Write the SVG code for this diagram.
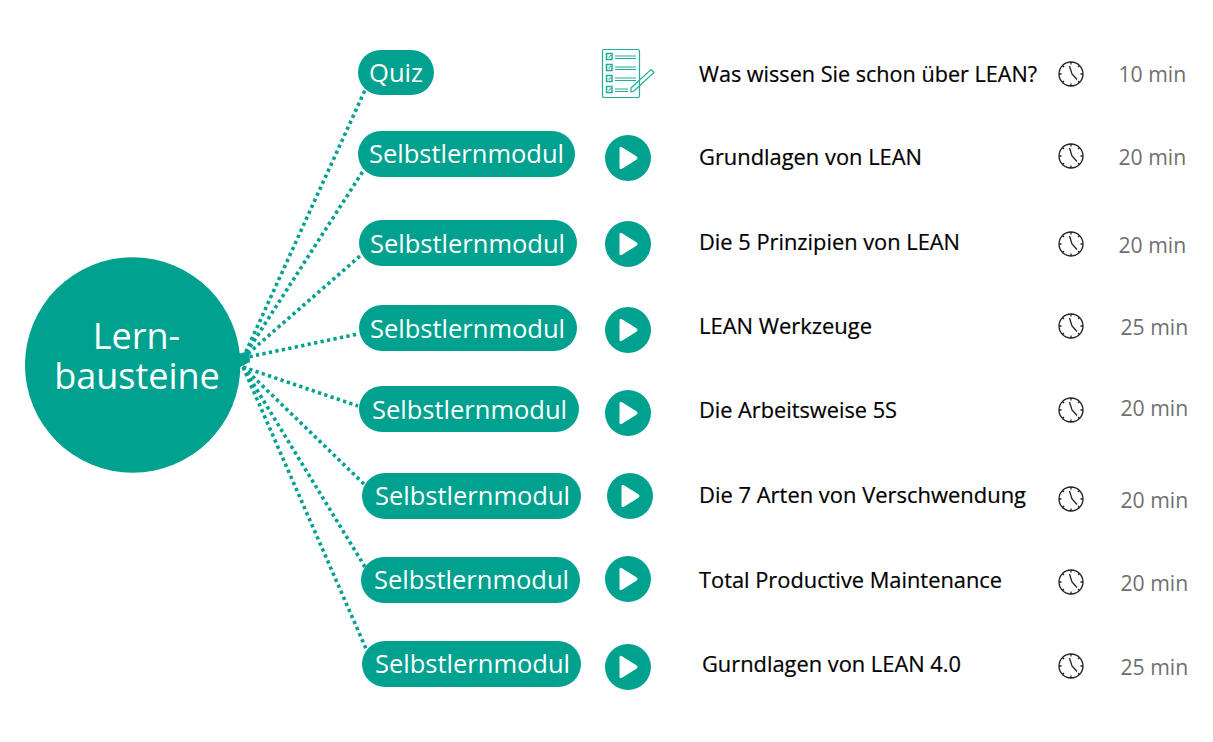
<svg xmlns="http://www.w3.org/2000/svg" width="1213" height="742" viewBox="0 0 1213 742">
<style>
.t{font-family:"Open Sans","Noto Sans","Liberation Sans",sans-serif}
.pill{fill:#00a28f}
.pt{font-size:25.500px;fill:#fff;text-anchor:middle}
.hub{font-size:36px;fill:#fff;text-anchor:middle}
.lbl{font-size:22px;fill:#000;stroke:#000;stroke-width:.2}
.min{font-size:21.200px;fill:#6f6f6f}
.conn{fill:none;stroke:#00a28f;stroke-width:3.600;stroke-dasharray:3.300 3.300}
.ck{fill:none;stroke:#222;stroke-width:1.300}
</style>
<defs>
<g id="play"><circle r="23" fill="#00a28f"/><path d="M-8.500-9.500Q-8.500-12-6-10.700L8-2Q11 0 8 2L-6 10.700Q-8.500 12-8.500 9.500Z" fill="#fff"/></g>
<g id="clock"><circle r="12" class="ck"/><path d="M-1.500-8L1 0 6 5.500" class="ck"/><path d="M0-12V-9.500M0 12V9.500M-12 0H-9.500M12 0H9.500M-8.500-8.500L-7-7M8.500-8.500L7-7M-8.500 8.500L-7 7M8.500 8.500L7 7" class="ck"/></g>
</defs>
<g id="connectors">
<path class="conn" d="M243 358L366 88"/>
<path class="conn" d="M243 358L365 168"/>
<path class="conn" d="M243 358L360 256"/>
<path class="conn" d="M243 358L358 334"/>
<path class="conn" d="M243 367L358 406"/>
<path class="conn" d="M243 367L365 485"/>
<path class="conn" d="M243 367L365 567"/>
<path class="conn" d="M243 367L367 651"/>
</g>
<g id="hub"><circle cx="132.700" cy="365" r="107.700" class="pill"/><path d="M238 354L249 351 250 362 240 367Z" class="pill"/>
<text class="t hub" x="136.500" y="349">Lern-</text>
<text class="t hub" x="137" y="389">bausteine</text></g>
<g id="n0"><rect x="358" y="50" width="76" height="45" rx="22.500" class="pill"/><text class="t pt" x="396" y="81.500">Quiz</text>
<g fill="none" stroke="#1fae9c"><rect x="602.500" y="49.500" width="37" height="48" rx="1.500" stroke-width="1.200"/>
<path d="M615 56H636M615 58.500H636M615 67H636M615 69.500H636M615 78H636M615 80.500H636M615 89H628M615 91.500H628" stroke-width="1"/>
<path d="M606.500 53.500h5.500v6h-5.500zM606.500 64.500h5.500v6h-5.500zM606.500 75.500h5.500v6h-5.500zM606.500 86.500h5.500v6h-5.500z" stroke-width="1.500"/>
<path d="M608 56.500l1 1 2-2.500M608 67.500l1 1 2-2.500M608 78.500l1 1 2-2.500M608 89.500l1 1 2-2.500" stroke-width="1"/>
<path d="M631 88L651 69.500 654 72.500 634 91 631 92Z" stroke-width="1.200"/></g></g>
<g id="n1"><rect x="358" y="131" width="217" height="46" rx="23" class="pill"/><text class="t pt" x="466.500" y="162.500">Selbstlernmodul</text><use href="#play" x="628" y="158"/></g>
<g id="n2"><rect x="359" y="220" width="218" height="46" rx="23" class="pill"/><text class="t pt" x="467.500" y="252.500">Selbstlernmodul</text><use href="#play" x="628" y="244"/></g>
<g id="n3"><rect x="359" y="305" width="218" height="46" rx="23" class="pill"/><text class="t pt" x="467.500" y="337.500">Selbstlernmodul</text><use href="#play" x="628" y="330"/></g>
<g id="n4"><rect x="359" y="386" width="220" height="46" rx="23" class="pill"/><text class="t pt" x="469.500" y="418.500">Selbstlernmodul</text><use href="#play" x="628" y="413"/></g>
<g id="n5"><rect x="362" y="473" width="219" height="46" rx="23" class="pill"/><text class="t pt" x="472.500" y="504.500">Selbstlernmodul</text><use href="#play" x="630" y="496"/></g>
<g id="n6"><rect x="361" y="557" width="219" height="46" rx="23" class="pill"/><text class="t pt" x="471.500" y="588.500">Selbstlernmodul</text><use href="#play" x="628" y="579"/></g>
<g id="n7"><rect x="362" y="641" width="219" height="46" rx="23" class="pill"/><text class="t pt" x="472.500" y="672.500">Selbstlernmodul</text><use href="#play" x="628" y="667"/></g>
<g id="labels">
<text class="t lbl" x="699" y="82" textLength="338" lengthAdjust="spacingAndGlyphs">Was wissen Sie schon über LEAN?</text>
<text class="t lbl" x="699" y="165" textLength="223" lengthAdjust="spacingAndGlyphs">Grundlagen von LEAN</text>
<text class="t lbl" x="699" y="250" textLength="261" lengthAdjust="spacingAndGlyphs">Die 5 Prinzipien von LEAN</text>
<text class="t lbl" x="699" y="334" textLength="173" lengthAdjust="spacingAndGlyphs">LEAN Werkzeuge</text>
<text class="t lbl" x="699" y="418" textLength="198" lengthAdjust="spacingAndGlyphs">Die Arbeitsweise 5S</text>
<text class="t lbl" x="699" y="503" textLength="327" lengthAdjust="spacingAndGlyphs">Die 7 Arten von Verschwendung</text>
<text class="t lbl" x="699" y="588" textLength="303" lengthAdjust="spacingAndGlyphs">Total Productive Maintenance</text>
<text class="t lbl" x="702" y="672" textLength="259" lengthAdjust="spacingAndGlyphs">Gurndlagen von LEAN 4.0</text>
</g>
<g id="clocks">
<use href="#clock" x="1071" y="74"/><use href="#clock" x="1071" y="156"/><use href="#clock" x="1071" y="244"/><use href="#clock" x="1071" y="326"/><use href="#clock" x="1071" y="410"/><use href="#clock" x="1071" y="499"/><use href="#clock" x="1071" y="582"/><use href="#clock" x="1071" y="666"/>
</g>
<g id="durations">
<text class="t min" x="1118.500" y="82">10 min</text>
<text class="t min" x="1118.500" y="165">20 min</text>
<text class="t min" x="1118.500" y="253">20 min</text>
<text class="t min" x="1120.500" y="335">25 min</text>
<text class="t min" x="1120.500" y="416">20 min</text>
<text class="t min" x="1120.500" y="508">20 min</text>
<text class="t min" x="1120.500" y="591">20 min</text>
<text class="t min" x="1120.500" y="675">25 min</text>
</g>
</svg>
